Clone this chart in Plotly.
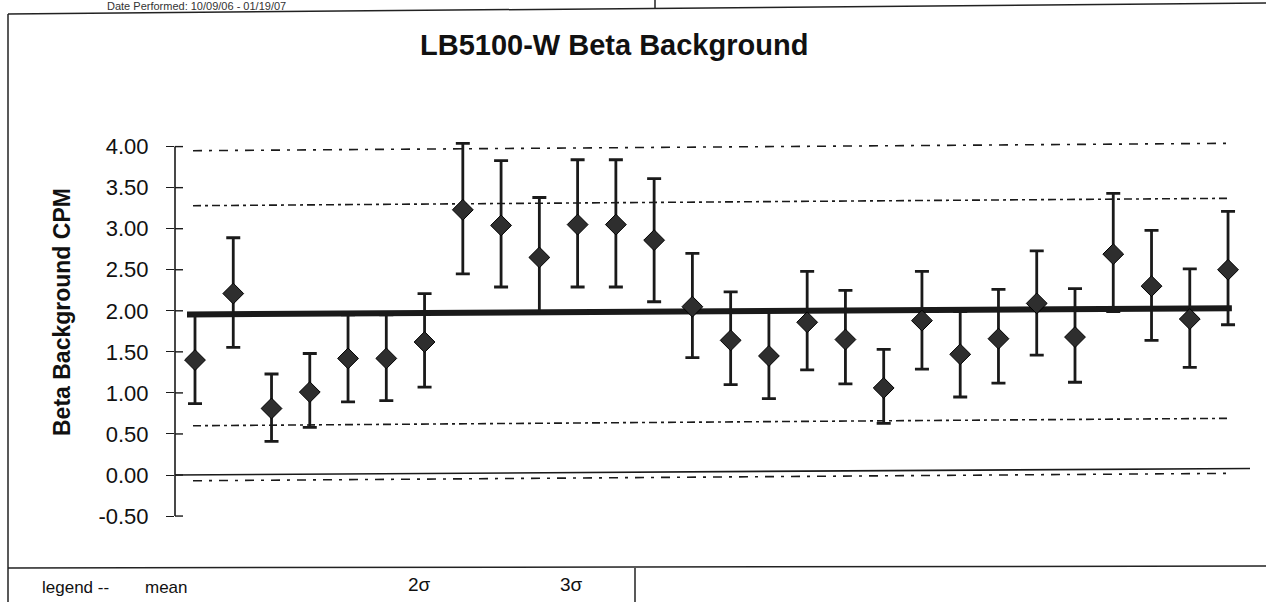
import plotly.graph_objects as go

# ---- data ----
runs = list(range(1, 29))
bkg_cpm = [1.40, 2.21, 0.81, 1.01, 1.42, 1.42, 1.62, 3.23, 3.04, 2.65, 3.05, 3.05, 2.86, 2.05,
           1.64, 1.45, 1.86, 1.65, 1.06, 1.88, 1.47, 1.66, 2.09, 1.68, 2.69, 2.30, 1.90, 2.50]
err_top = [1.95, 2.89, 1.23, 1.48, 1.95, 1.95, 2.21, 4.04, 3.83, 3.38, 3.84, 3.84, 3.61, 2.70,
           2.23, 1.99, 2.48, 2.25, 1.53, 2.48, 1.99, 2.26, 2.73, 2.27, 3.43, 2.98, 2.51, 3.21]
err_bot = [0.87, 1.555, 0.41, 0.58, 0.89, 0.905, 1.07, 2.45, 2.29, 1.98, 2.29, 2.29, 2.11, 1.43,
           1.10, 0.93, 1.28, 1.11, 0.63, 1.29, 0.95, 1.12, 1.46, 1.13, 1.99, 1.64, 1.31, 1.83]
# reference lines (value at left end, value at right end; the scan is slightly tilted)
mean_line = [1.955, 2.03]
upper_2s = [3.28, 3.37]
lower_2s = [0.60, 0.69]
upper_3s = [3.95, 4.04]
lower_3s = [-0.07, 0.02]
zero_line = [0.0, 0.08]
tick_vals = [4.0, 3.5, 3.0, 2.5, 2.0, 1.5, 1.0, 0.5, 0.0, -0.5]
tick_text = ["4.00", "3.50", "3.00", "2.50", "2.00", "1.50", "1.00", "0.50", "0.00", "-0.50"]

W, H = 1266, 602
ML, MR, MT, MB = 175, 16, 100, 57
PW, PH = W - ML - MR, H - MT - MB
X_RANGE = [0.4773, 28.574]
Y_RANGE = [-0.8526, 4.5676]


def pxx(x):
    return (x - ML) / PW


def pxy(y):
    return (H - MB - y) / PH


ink = "#1a1a1a"
font = "Liberation Sans, Arial, sans-serif"

fig = go.Figure()

# dashed control lines
span_dash = [0.948, 28.0]
for vals, dash in [(upper_3s, "9px,7px,3px,7px"), (lower_3s, "9px,7px,3px,7px"),
                   (upper_2s, "8px,4px,3px,4px"), (lower_2s, "8px,4px,3px,4px")]:
    fig.add_trace(go.Scatter(x=span_dash, y=vals, mode="lines",
                             line=dict(color=ink, width=1.6, dash=dash),
                             hoverinfo="skip", showlegend=False))

# zero line
fig.add_trace(go.Scatter(x=X_RANGE, y=zero_line, mode="lines",
                         line=dict(color=ink, width=1.6), hoverinfo="skip", showlegend=False))

# mean line
fig.add_trace(go.Scatter(x=[0.791, 28.1], y=mean_line, mode="lines",
                         line=dict(color=ink, width=6), hoverinfo="skip", showlegend=False))

# data points with error bars
fig.add_trace(go.Scatter(
    x=runs, y=bkg_cpm, mode="markers",
    marker=dict(symbol="diamond", size=16, color="#2e2e2e", line=dict(color="#000", width=1)),
    error_y=dict(type="data", symmetric=False,
                 array=[t - v for t, v in zip(err_top, bkg_cpm)],
                 arrayminus=[v - b for v, b in zip(bkg_cpm, err_bot)],
                 color=ink, thickness=2.8, width=7),
    showlegend=False))

shapes = []
# y axis line (from -0.50 to 4.00)
shapes.append(dict(type="line", xref="paper", yref="y", x0=0, x1=0, y0=-0.5, y1=4.0,
                   line=dict(color=ink, width=1.6)))
# inner halves of crossing ticks
for tv in tick_vals:
    shapes.append(dict(type="line", xref="paper", yref="y", x0=0, x1=pxx(183) - pxx(175),
                       y0=tv, y1=tv, line=dict(color=ink, width=1.4)))
# page frame
frame = dict(color="#222", width=1.5)
shapes += [
    dict(type="line", xref="paper", yref="paper", x0=pxx(8), x1=pxx(8), y0=pxy(14), y1=pxy(602), line=frame),
    dict(type="line", xref="paper", yref="paper", x0=pxx(8), x1=pxx(1266), y0=pxy(14), y1=pxy(3), line=frame),
    dict(type="line", xref="paper", yref="paper", x0=pxx(8), x1=pxx(1266), y0=pxy(568), y1=pxy(566), line=frame),
    dict(type="line", xref="paper", yref="paper", x0=pxx(635), x1=pxx(635), y0=pxy(568), y1=pxy(602), line=frame),
    dict(type="line", xref="paper", yref="paper", x0=pxx(655), x1=pxx(655), y0=pxy(0), y1=pxy(8), line=frame),
]

annotations = [
    dict(text="<b>LB5100-W Beta Background</b>", xref="paper", yref="paper",
         x=pxx(614), y=pxy(45), xanchor="center", yanchor="middle", showarrow=False,
         font=dict(family=font, size=29, color="#111")),
    dict(text="<b>Beta Background CPM</b>", xref="paper", yref="paper", textangle=-90,
         x=pxx(62), y=pxy(312), xanchor="center", yanchor="middle", showarrow=False,
         font=dict(family=font, size=23, color="#111")),
    dict(text="Date Performed: 10/09/06 - 01/19/07", xref="paper", yref="paper",
         x=pxx(105), y=pxy(6), xanchor="left", yanchor="middle", showarrow=False,
         font=dict(family=font, size=11, color="#333")),
    dict(text="legend --", xref="paper", yref="paper", x=pxx(40), y=pxy(587),
         xanchor="left", yanchor="middle", showarrow=False, font=dict(family=font, size=17, color="#111")),
    dict(text="mean", xref="paper", yref="paper", x=pxx(143), y=pxy(587),
         xanchor="left", yanchor="middle", showarrow=False, font=dict(family=font, size=17, color="#111")),
    dict(text="2σ", xref="paper", yref="paper", x=pxx(406), y=pxy(584),
         xanchor="left", yanchor="middle", showarrow=False, font=dict(family=font, size=19, color="#111")),
    dict(text="3σ", xref="paper", yref="paper", x=pxx(558), y=pxy(584),
         xanchor="left", yanchor="middle", showarrow=False, font=dict(family=font, size=19, color="#111")),
]

fig.update_layout(
    width=W, height=H, margin=dict(l=ML, r=MR, t=MT, b=MB, pad=0),
    paper_bgcolor="white", plot_bgcolor="white",
    shapes=shapes, annotations=annotations, showlegend=False,
    xaxis=dict(range=X_RANGE, visible=False, showgrid=False, zeroline=False),
    yaxis=dict(range=Y_RANGE, tickvals=tick_vals, ticktext=tick_text, ticks="outside",
               ticklen=8, tickwidth=1.4, tickcolor=ink, showgrid=False, zeroline=False,
               showline=False, ticklabelstandoff=13,
               tickfont=dict(family=font, size=22, color="#111")),
)

fig.write_html("out.html")
